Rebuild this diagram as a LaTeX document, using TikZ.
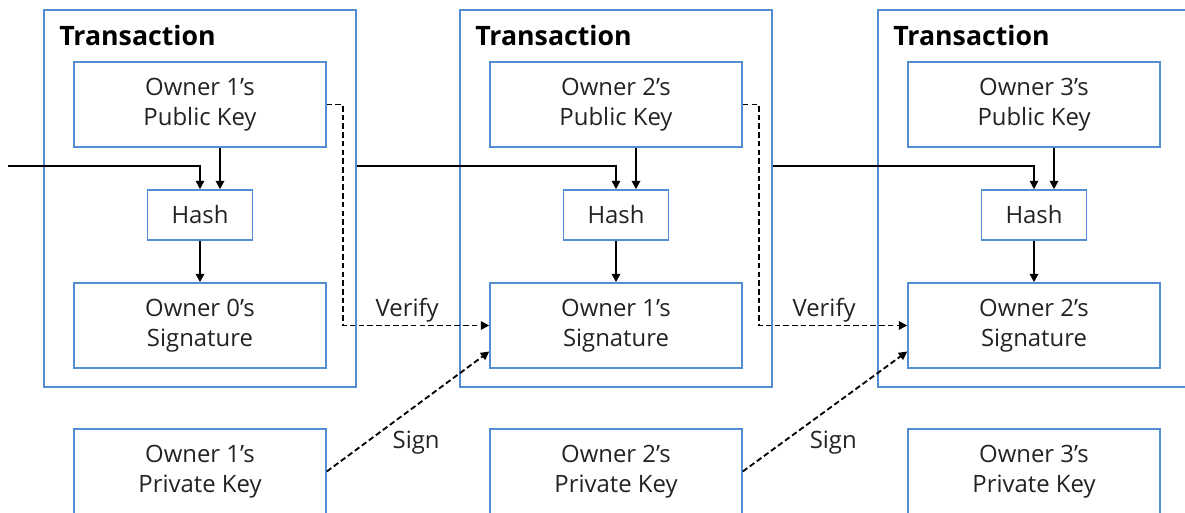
\documentclass[tikz,border=0pt]{standalone}
\usepackage{fontspec}
\setmainfont{Open Sans}
\usetikzlibrary{arrows.meta, positioning, calc}
\definecolor{edgec}{RGB}{84,141,212}
\definecolor{inkc}{RGB}{35,35,35}
\tikzset{
  box/.style={
    rectangle, draw=edgec, line width=1.1pt,
    minimum width=6.3cm, minimum height=2.125cm, inner sep=0pt,
    align=center, font=\fontsize{17}{21}\selectfont, text=inkc
  },
  hashbox/.style={box, minimum width=2.625cm, minimum height=1.25cm},
  txbox/.style={rectangle, draw=edgec, line width=1.4pt,
                minimum width=7.8cm, minimum height=9.425cm, inner sep=0pt},
  title/.style={font=\fontsize{19}{21}\selectfont\bfseries, text=black,
                anchor=north west, inner sep=0pt},
  arr/.style={-{Triangle[length=6pt, width=6pt]}, line width=1.4pt, draw=black},
  chain/.style={arr, line width=1.2pt},
  darr/.style={-{Triangle[length=6pt, width=6pt]}, line width=1.3pt,
               dash pattern=on 4pt off 2.2pt},
  lbl/.style={font=\fontsize{17}{19}\selectfont, text=inkc, inner sep=2pt},
}

\begin{document}
\begin{tikzpicture}

  \useasboundingbox (0,0) rectangle (29.625,-12.825);

  % the three transactions of the chain
  \node[txbox] (tx1) at (5.0,-4.9625) {};
  \node[txbox] (tx2) at (15.4,-4.9625) {};
  \node[txbox] (tx3) at (25.85,-4.9625) {};

  \node[title] (title1) at ([shift={(0.4,-0.4)}]tx1.north west) {Transaction};
  \node[title] (title2) at ([shift={(0.4,-0.4)}]tx2.north west) {Transaction};
  \node[title] (title3) at ([shift={(0.4,-0.4)}]tx3.north west) {Transaction};

  \node[box] (pub1) at (5.0,-2.6125) {Owner 1’s\\Public Key};
  \node[hashbox] (hash1) at (5.0,-5.375) {Hash};
  \node[box] (sig1) at (5.0,-8.1375) {Owner 0’s\\Signature};

  \node[box] (pub2) at (15.4,-2.6125) {Owner 2’s\\Public Key};
  \node[hashbox] (hash2) at (15.4,-5.375) {Hash};
  \node[box] (sig2) at (15.4,-8.1375) {Owner 1’s\\Signature};

  \node[box] (pub3) at (25.85,-2.6125) {Owner 3’s\\Public Key};
  \node[hashbox] (hash3) at (25.85,-5.375) {Hash};
  \node[box] (sig3) at (25.85,-8.1375) {Owner 2’s\\Signature};

  % private keys kept by the owners
  \node[box] (priv1) at (5.0,-11.7875) {Owner 1’s\\Private Key};
  \node[box] (priv2) at (15.4,-11.7875) {Owner 2’s\\Private Key};
  \node[box] (priv3) at (25.85,-11.7875) {Owner 3’s\\Private Key};

  % previous transaction feeds the next hash
  \coordinate (start) at (0.2,-4.15);
  \draw[chain] (start) -| (hash1.north);
  \draw[chain] (tx1.east |- start) -| (hash2.north);
  \draw[chain] (tx2.east |- start) -| (hash3.north);

  \draw[arr] ([xshift=5mm]pub1.south) -- ([xshift=5mm]hash1.north);
  \draw[arr] ([xshift=5mm]pub2.south) -- ([xshift=5mm]hash2.north);
  \draw[arr] ([xshift=5mm]pub3.south) -- ([xshift=5mm]hash3.north);

  \draw[arr] (hash1) -- (sig1);
  \draw[arr] (hash2) -- (sig2);
  \draw[arr] (hash3) -- (sig3);

  % verify with the public key, sign with the private key
  \draw[darr] (pub1.east) -- ++(0.4,0) |- node[lbl, pos=0.72, above]{Verify} (sig2.west);
  \draw[darr] (pub2.east) -- ++(0.4,0) |- node[lbl, pos=0.72, above]{Verify} (sig3.west);

  \draw[darr] (priv1.east) -- node[lbl, pos=0.55, below=5.5mm]{Sign} ([yshift=-6.5mm]sig2.west);
  \draw[darr] (priv2.east) -- node[lbl, pos=0.55, below=5.5mm]{Sign} ([yshift=-6.5mm]sig3.west);

\end{tikzpicture}
\end{document}
